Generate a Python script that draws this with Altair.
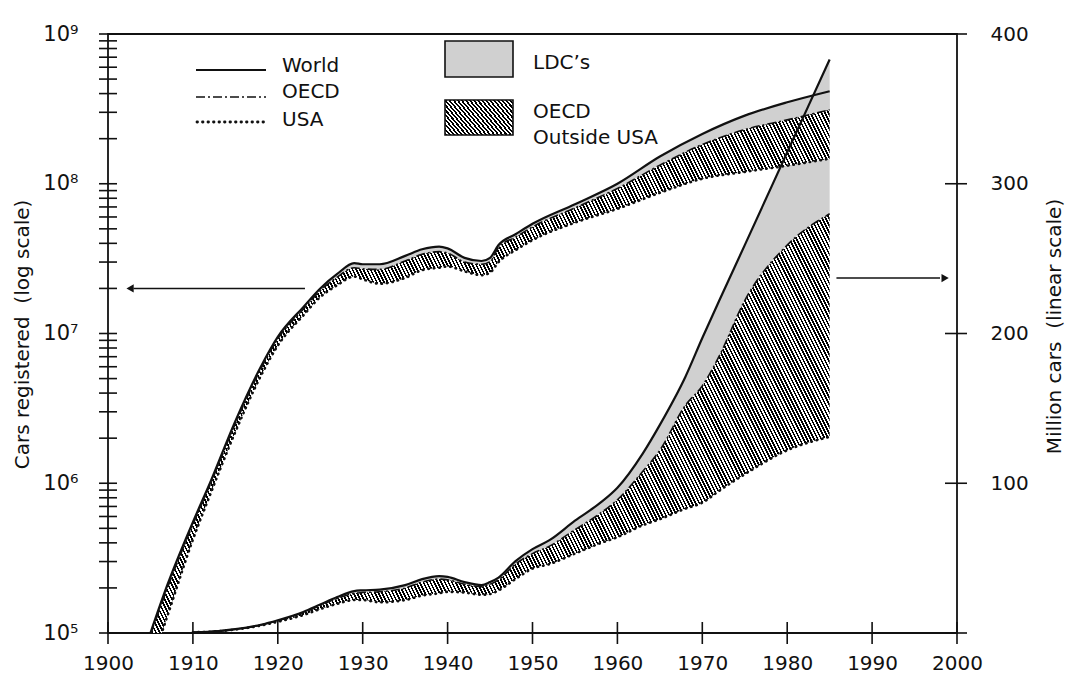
import math
import altair as alt
import pandas as pd

# ---------------- data ----------------
# upper set of curves, plotted on the left (log) axis, number of cars
years_log = [1905, 1907, 1910, 1912, 1915, 1918, 1920, 1923, 1925, 1927, 1929, 1930, 1932, 1935,
             1937, 1939, 1940, 1942, 1944, 1945, 1946, 1948, 1950, 1955, 1960, 1965, 1970, 1975, 1980, 1985]
world_log = [1.0e5, 2.1e5, 5.5e5, 1.0e6, 2.6e6, 6.0e6, 9.5e6, 1.5e7, 2.0e7, 2.5e7, 2.95e7, 2.9e7, 2.9e7, 3.3e7,
             3.65e7, 3.8e7, 3.7e7, 3.2e7, 3.05e7, 3.2e7, 3.9e7, 4.6e7, 5.4e7, 7.3e7, 1.0e8, 1.52e8, 2.15e8, 2.85e8, 3.5e8, 4.15e8]
oecd_log = [0.97e5, 2.0e5, 5.3e5, 0.97e6, 2.5e6, 5.8e6, 9.2e6, 1.45e7, 1.93e7, 2.38e7, 2.75e7, 2.7e7, 2.68e7, 3.05e7,
            3.38e7, 3.52e7, 3.45e7, 3.0e7, 2.9e7, 3.02e7, 3.75e7, 4.4e7, 5.15e7, 6.9e7, 9.3e7, 1.33e8, 1.83e8, 2.3e8, 2.67e8, 3.12e8]
usa_log = [6.0e4, 1.3e5, 4.2e5, 8.3e5, 2.2e6, 5.2e6, 8.3e6, 1.32e7, 1.75e7, 2.1e7, 2.4e7, 2.3e7, 2.15e7, 2.35e7,
           2.65e7, 2.75e7, 2.8e7, 2.6e7, 2.45e7, 2.55e7, 3.0e7, 3.6e7, 4.2e7, 5.5e7, 6.8e7, 8.7e7, 1.08e8, 1.2e8, 1.32e8, 1.47e8]

# lower set of curves, plotted on the right (linear) axis, million cars
years_lin = [1910, 1913, 1915, 1918, 1920, 1923, 1925, 1927, 1929, 1930, 1932, 1935, 1937, 1939, 1940, 1942,
             1944, 1945, 1946, 1948, 1950, 1952, 1955, 1958, 1960, 1963, 1965, 1968, 1970, 1972, 1975, 1980, 1985]
world_lin = [0.5, 1.3, 2.6, 5.5, 8.5, 14, 19, 24, 28, 28.5, 29, 32, 36, 38, 37.5, 34,
             32, 34, 37, 48, 56, 62, 75, 87, 97, 120, 139, 171, 197, 222, 259, 321, 383]
oecd_lin = [0.48, 1.25, 2.5, 5.3, 8.2, 13.5, 18.3, 23, 26.5, 27, 27.5, 30, 34, 36, 35.5, 32.5,
            31, 32.5, 35.5, 46, 53, 58, 69, 80, 89, 108, 122, 152, 165, 185, 222, 259, 280]
usa_lin = [0.46, 1.2, 2.3, 5.0, 7.5, 12, 16, 19.5, 22, 22, 20.5, 22, 25, 26.5, 27.5, 27,
           25.5, 26, 28.5, 36, 43, 46, 53, 60, 64, 72, 76, 83, 87, 95, 106, 122, 131]

# axis ticks / labels
decades = list(range(1900, 2001, 10))
log_label_values = [1e5, 1e6, 1e7, 1e8, 1e9]
log_tick_values = [m * 10 ** e for e in range(5, 9) for m in range(1, 10)] + [10 ** 9]
lin_label_values = [100, 200, 300, 400]
lin_tick_values = [0, 100, 200, 300, 400]

# annotation arrows (data coordinates)
arrow_left = pd.DataFrame({"x0": [1903.0], "x1": [1923.2], "xh": [1902.6], "y": [2.0e7]})
arrow_right = pd.DataFrame({"x0": [1985.8], "x1": [1998.0], "xh": [1998.6], "y": [237.0]})

line_labels = ["World", "OECD", "USA"]
area_labels = ["LDC\u2019s", "OECD", "Outside USA"]

left_title = "Cars registered \u00a0(log scale)"
right_title = "Million cars \u00a0(linear scale)"

# ---------------- styling ----------------
W, H = 849, 599
FONT = "DejaVu Sans"
INK = "#111111"
STIPPLE = "#d0d0d0"
PX_YEAR = W / 100.0
PX_DEC = H / 4.0
PX_MIL = H / 400.0


def hatch(w, h, slope=2.0, period=3.6, frac=0.5, ink="#000000", paper="#ffffff"):
    """Diagonal stripes as a linear gradient in bounding-box space."""
    R = slope * w + h
    g2 = (slope * w) ** 2 + h ** 2
    lam = R / g2
    n = int(math.ceil(R / (slope * period)))
    stops = []
    for i in range(n):
        a = i / n
        b = (i + frac) / n
        c = (i + 1) / n
        stops += [{"offset": round(a, 5), "color": ink}, {"offset": round(b, 5), "color": ink},
                  {"offset": round(b, 5), "color": paper}, {"offset": round(min(c, 1.0), 5), "color": paper}]
    return {"gradient": "linear", "x1": 0, "y1": 1,
            "x2": round(lam * slope * w, 5), "y2": round(1 - lam * h, 5), "stops": stops}


lin_df = pd.DataFrame({"year": years_lin, "world": world_lin, "oecd": oecd_lin, "usa": usa_lin})
log_df = pd.DataFrame({"year": years_log, "world": world_log, "oecd": oecd_log, "usa": usa_log})

# bounding boxes of the hatched areas (pixels) so that stripes have a fixed spacing
lin_w = (max(years_lin) - min(years_lin)) * PX_YEAR
lin_h = (max(oecd_lin) - min(usa_lin)) * PX_MIL
log_w = (max(years_log) - min(years_log)) * PX_YEAR
log_h = (math.log10(max(oecd_log)) - math.log10(min(usa_log))) * PX_DEC

X_SCALE = alt.Scale(domain=[1900, 2000], nice=False, zero=False)
X_AXIS = alt.Axis(values=decades, format="d", tickSize=0, domain=False, grid=False, labelPadding=20,
                  labelFontSize=20, labelColor=INK, labelFont=FONT, labelFlush=False, labelOverlap=False,
                  title=None)
LOG_SCALE = alt.Scale(type="log", domain=[1e5, 1e9], nice=False)
LOG_AXIS = alt.Axis(orient="left", values=log_label_values,
                    labelExpr="'10' + ['\u2075','\u2076','\u2077','\u2078','\u2079'][round(log(datum.value)/LN10) - 5]",
                    tickSize=0, domain=False, grid=False, labelPadding=30, labelFontSize=21, labelColor=INK,
                    labelFont=FONT, labelFlush=False, labelOverlap=False,
                    title=left_title, titleX=-86, titleY=300, titleAngle=-90, titleAlign="center",
                    titleBaseline="middle", titleFontSize=20, titleFontWeight="normal", titleColor=INK,
                    titleFont=FONT)
LIN_SCALE = alt.Scale(domain=[0, 400], nice=False, zero=False)
LIN_AXIS = alt.Axis(orient="right", values=lin_label_values, tickSize=0, domain=False, grid=False,
                    labelPadding=33, labelFontSize=20, labelColor=INK, labelFont=FONT, labelFlush=False,
                    labelOverlap=False,
                    title=right_title, titleX=97, titleY=292, titleAngle=-90, titleAlign="center",
                    titleBaseline="middle", titleFontSize=20, titleFontWeight="normal", titleColor=INK,
                    titleFont=FONT)


def xq(field="year"):
    return alt.X(f"{field}:Q", scale=X_SCALE, axis=X_AXIS)


def ylin(field, axis=LIN_AXIS):
    return alt.Y(f"{field}:Q", scale=LIN_SCALE, axis=axis)


def ylog(field, axis=LOG_AXIS):
    return alt.Y(f"{field}:Q", scale=LOG_SCALE, axis=axis)


# ---------- group 1: linear areas + right axis ticks ----------
lin_base = alt.Chart(lin_df)
lin_stipple = lin_base.mark_area(fill=STIPPLE, opacity=1, interpolate="monotone").encode(
    x=xq(), y=ylin("oecd"), y2="world:Q")
lin_hatch = lin_base.mark_area(fill=hatch(lin_w, lin_h), opacity=1, interpolate="monotone").encode(
    x=xq(), y=ylin("usa"), y2="oecd:Q")
right_ticks = alt.Chart(pd.DataFrame({"v": lin_tick_values})).mark_rule(color=INK, strokeWidth=1.6).encode(
    y=ylin("v"), x=alt.value(W - 12), x2=alt.value(W + 10))
group1 = alt.layer(lin_stipple, lin_hatch, right_ticks)

# ---------- group 2: log areas + left axis ticks + left arrow ----------
log_base = alt.Chart(log_df)
log_stipple = log_base.mark_area(fill=STIPPLE, opacity=1, interpolate="monotone", clip=True).encode(
    x=xq(), y=ylog("oecd"), y2="world:Q")
log_hatch = log_base.mark_area(fill=hatch(log_w, log_h), opacity=1, interpolate="monotone", clip=True).encode(
    x=xq(), y=ylog("usa"), y2="oecd:Q")
left_ticks = alt.Chart(pd.DataFrame({"v": log_tick_values})).mark_rule(color=INK, strokeWidth=1.6).encode(
    y=ylog("v"), x=alt.value(-9), x2=alt.value(9))
la_rule = alt.Chart(arrow_left).mark_rule(color=INK, strokeWidth=1.5).encode(
    x=xq("x0"), x2="x1:Q", y=ylog("y"))
la_head = alt.Chart(arrow_left).mark_point(shape="triangle-left", filled=True, size=70, color=INK, opacity=1).encode(
    x=xq("xh"), y=ylog("y"))
group2 = alt.layer(log_stipple, log_hatch, left_ticks, la_rule, la_head)

# ---------- group 3: linear lines + right arrow ----------
lin_world = lin_base.mark_line(color=INK, strokeWidth=2.2, interpolate="monotone").encode(
    x=xq(), y=ylin("world", None))
lin_oecd = lin_base.mark_line(color=INK, strokeWidth=1.6, strokeDash=[9, 3, 2, 3], interpolate="monotone").encode(
    x=xq(), y=ylin("oecd", None))
lin_usa = lin_base.mark_line(color=INK, strokeWidth=2.6, strokeDash=[0.5, 5], strokeCap="round",
                             interpolate="monotone").encode(
    x=xq(), y=ylin("usa", None))
ra_rule = alt.Chart(arrow_right).mark_rule(color=INK, strokeWidth=1.5).encode(
    x=xq("x0"), x2="x1:Q", y=ylin("y", None))
ra_head = alt.Chart(arrow_right).mark_point(shape="triangle-right", filled=True, size=70, color=INK, opacity=1).encode(
    x=xq("xh"), y=ylin("y", None))
group3 = alt.layer(lin_world, lin_oecd, lin_usa, ra_rule, ra_head)

# ---------- group 4: log lines, x ticks, legend ----------
log_world = log_base.mark_line(color=INK, strokeWidth=2.2, interpolate="monotone", clip=True).encode(
    x=xq(), y=ylog("world", None))
log_oecd = log_base.mark_line(color=INK, strokeWidth=1.6, strokeDash=[9, 3, 2, 3], interpolate="monotone",
                              clip=True).encode(
    x=xq(), y=ylog("oecd", None))
log_usa = log_base.mark_line(color=INK, strokeWidth=2.6, strokeDash=[0.5, 5], strokeCap="round",
                             interpolate="monotone", clip=True).encode(
    x=xq(), y=ylog("usa", None))
x_ticks = alt.Chart(pd.DataFrame({"year": decades})).mark_rule(color=INK, strokeWidth=1.6).encode(
    x=xq(), y=alt.value(H - 11), y2=alt.value(H + 11))

one = pd.DataFrame({"k": [0]})
leg = alt.Chart(one)
leg_items = [
    leg.mark_rule(color=INK, strokeWidth=2.2).encode(x=alt.value(88), x2=alt.value(158), y=alt.value(36)),
    leg.mark_rule(color=INK, strokeWidth=1.6, strokeDash=[9, 3, 2, 3]).encode(
        x=alt.value(88), x2=alt.value(158), y=alt.value(63)),
    leg.mark_rule(color=INK, strokeWidth=2.8, strokeDash=[0.5, 5], strokeCap="round").encode(
        x=alt.value(89), x2=alt.value(158), y=alt.value(88)),
    leg.mark_rect(fill=STIPPLE, stroke=INK, strokeWidth=1.6, opacity=1).encode(
        x=alt.value(337), x2=alt.value(405), y=alt.value(7), y2=alt.value(43)),
    leg.mark_rect(fill=hatch(68, 35, slope=1.2, period=4.2), stroke=INK, strokeWidth=1.6, opacity=1).encode(
        x=alt.value(337), x2=alt.value(405), y=alt.value(66), y2=alt.value(101)),
]
text_pos = [(174, 32, line_labels[0]), (174, 58, line_labels[1]), (174, 86, line_labels[2]),
            (425, 29, area_labels[0]), (425, 78, area_labels[1]), (425, 104, area_labels[2])]
for tx, ty, label in text_pos:
    leg_items.append(leg.mark_text(text=label, align="left", baseline="middle", font=FONT, fontSize=20,
                                   color=INK).encode(x=alt.value(tx), y=alt.value(ty)))

group4 = alt.layer(log_world, log_oecd, log_usa, x_ticks, *leg_items)

chart = alt.layer(group1, group2, group3, group4).resolve_scale(y="independent").properties(
    width=W, height=H,
    autosize=alt.AutoSizeParams(type="none"),
    padding={"left": 108, "top": 34, "right": 110, "bottom": 45},
    background="white",
).configure(font=FONT).configure_view(stroke=INK, strokeWidth=1.8)

chart.save("out.html", embed_options={"renderer": "svg", "actions": False})
